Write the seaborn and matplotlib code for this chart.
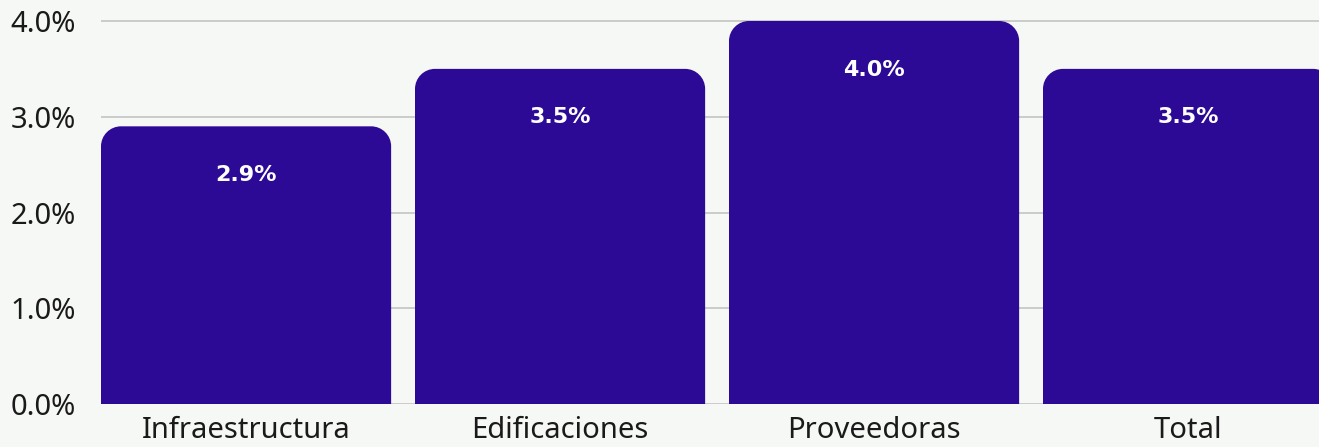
import matplotlib
matplotlib.use("Agg")
import matplotlib.pyplot as plt
import seaborn as sns
import pandas as pd
from matplotlib.path import Path
from matplotlib.patches import PathPatch

categories = ["Infraestructura", "Edificaciones", "Proveedoras", "Total"]
values = [2.9, 3.5, 4.0, 3.5]
labels = ["2.9%", "3.5%", "4.0%", "3.5%"]
yticks = [0, 1, 2, 3, 4]
yticklabels = ["0.0%", "1.0%", "2.0%", "3.0%", "4.0%"]

BG = "#f6f8f5"
BAR = "#2c0a96"

sns.set_theme(style="white")
plt.rcParams["font.family"] = ["Noto Sans", "DejaVu Sans"]

W, H, DPI = 1319, 447, 100
fig = plt.figure(figsize=(W / DPI, H / DPI), dpi=DPI, facecolor=BG)
# axes pixel geometry
left_px, right_px, y0_px = 101, 1319, 404
px_per_y = (404 - 21) / 4.0
ytop = 4.2
top_px = y0_px - ytop * px_per_y
ax = fig.add_axes([left_px / W, (H - y0_px) / H, (right_px - left_px) / W, (y0_px - top_px) / H])
ax.set_facecolor(BG)

df = pd.DataFrame({"cat": categories, "val": values})
sns.barplot(data=df, x="cat", y="val", color=BAR, width=0.924, ax=ax, saturation=1, zorder=3)

ax.set_xlim(-0.462, 3.417)
ax.set_ylim(0, ytop)
px_per_x = (right_px - left_px) / (3.417 + 0.462)

# rounded top corners
r_px = 20
rx = r_px / px_per_x
ry = r_px / px_per_y
k = 0.5523
for p in list(ax.patches):
    x0 = p.get_x(); w = p.get_width(); h = p.get_height()
    x1 = x0 + w
    verts = [
        (x0, 0), (x0, h - ry),
        (x0, h - ry + k * ry), (x0 + rx - k * rx, h), (x0 + rx, h),
        (x1 - rx, h),
        (x1 - rx + k * rx, h), (x1, h - ry + k * ry), (x1, h - ry),
        (x1, 0), (x0, 0),
    ]
    codes = [Path.MOVETO, Path.LINETO,
             Path.CURVE4, Path.CURVE4, Path.CURVE4,
             Path.LINETO,
             Path.CURVE4, Path.CURVE4, Path.CURVE4,
             Path.LINETO, Path.CLOSEPOLY]
    pp = PathPatch(Path(verts, codes), facecolor=BAR, edgecolor="none", zorder=3)
    p.remove()
    ax.add_patch(pp)

for i, (v, lab) in enumerate(zip(values, labels)):
    ax.annotate(lab, xy=(i, v), xytext=(0, -35), textcoords="offset points",
                ha="center", va="center", color="white", fontsize=16,
                fontweight="bold", family=["DejaVu Sans"], zorder=4)

ax.set_yticks(yticks)
ax.set_yticklabels(yticklabels)
ax.grid(axis="y", color="#c8c8c8", linewidth=1.3, zorder=0)
ax.grid(axis="x", visible=False)
for s in ax.spines.values():
    s.set_visible(False)
ax.tick_params(axis="y", length=0, pad=18, labelsize=21, labelcolor="#1a1a1a")
ax.tick_params(axis="x", length=0, pad=9, labelsize=21, labelcolor="#1a1a1a")
ax.set_xlabel("")
ax.set_ylabel("")

fig.savefig("out.png", dpi=DPI, facecolor=BG)
